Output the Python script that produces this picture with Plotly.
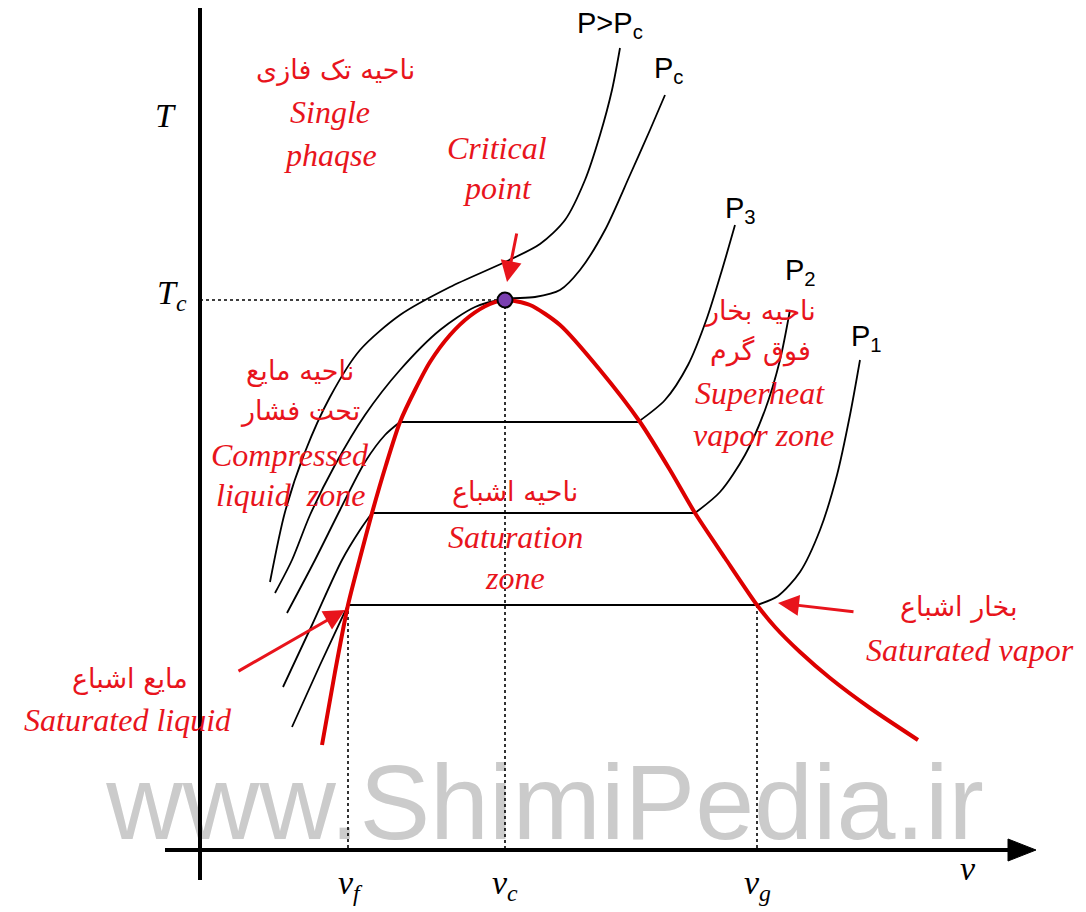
import plotly.graph_objects as go

# ---------------- data (v, T in diagram units) ----------------
sat_liq_v = [322, 335, 348, 360, 372, 386, 400, 415, 430, 450, 470, 490, 505]
sat_liq_T = [167, 240, 307, 354, 399, 447, 490, 522, 550, 577, 596, 608, 612]
sat_vap_v = [505, 530, 560, 600, 640, 670, 695, 725, 757, 775, 800, 830, 870, 918]
sat_vap_T = [612, 607, 587, 542, 490, 442, 399, 354, 307, 285, 260, 234, 204, 172]

crit_v = [505]
crit_T = [612]

iso_T = [490, 399, 307]
iso_v_left = [400, 372, 348]
iso_v_right = [638, 695, 757]

p_super_v = [270, 285, 305, 330, 360, 400, 450, 505, 540, 565, 585, 600, 612, 620]
p_super_T = [330, 400, 460, 515, 562, 597, 625, 650, 668, 692, 732, 777, 822, 864]
p_crit_v = [275, 292, 310, 335, 365, 400, 440, 475, 505, 535, 560, 580, 605, 630, 650, 665]
p_crit_T = [319, 352, 397, 447, 497, 542, 582, 605, 613, 615, 622, 642, 682, 737, 782, 817]
p3_liq_v = [287, 315, 340, 365, 385, 400]
p3_liq_T = [299, 352, 402, 450, 477, 490]
p3_vap_v = [638, 665, 688, 707, 722, 735]
p3_vap_T = [490, 512, 547, 594, 642, 687]
p2_liq_v = [283, 312, 342, 360, 372]
p2_liq_T = [225, 287, 352, 382, 399]
p2_vap_v = [695, 720, 745, 765, 780, 790]
p2_vap_T = [399, 420, 457, 502, 552, 602]
p1_liq_v = [292, 320, 348]
p1_liq_T = [185, 247, 307]
p1_vap_v = [757, 778, 800, 820, 837, 850, 860]
p1_vap_T = [307, 316, 340, 382, 437, 497, 552]

pressure_labels = ["P&gt;P<sub>c</sub>", "P<sub>c</sub>", "P<sub>3</sub>", "P<sub>2</sub>", "P<sub>1</sub>"]
axis_labels = ["<i>T</i>", "<i>T<sub>c</sub></i>", "<i>v<sub>f</sub></i>", "<i>v<sub>c</sub></i>",
               "<i>v<sub>g</sub></i>", "<i>v</i>"]
persian_labels = ["ناحیه تک فازی", "ناحیه بخار", "فوق گرم", "ناحیه مایع", "تحت فشار",
                  "ناحیه اشباع", "بخار اشباع", "مایع اشباع"]
english_labels = ["Single", "phaqse", "Critical", "point", "Superheat", "vapor zone",
                  "Compressed", "liquid&nbsp;&nbsp;zone", "Saturation", "zone",
                  "Saturated vapor", "Saturated liquid"]
watermark = "www.ShimiPedia.ir"

# ---------------- layout positions ----------------
pressure_pos = [(610, 887), (668, 842), (740, 702), (800, 640), (866, 574)]
axis_pos = [(165, 797), (172, 617), (350, 27), (505, 27), (757, 27), (968, 44)]
persian_pos = [(335, 842), (760, 601), (760, 561), (300, 541), (300, 501),
               (515, 420), (958, 305), (130, 233)]
english_pos = [(330, 800), (330, 757), (497, 764), (497, 724), (760, 519), (763, 477),
               (290, 457), (290, 417), (515, 375), (515, 334), (970, 262), (128, 192)]

RED = "#e8141c"
DOME = "#dd0000"

fig = go.Figure()

# watermark (behind everything)
fig.add_trace(go.Scatter(x=[545], y=[100], mode="text", text=[watermark],
                         textfont=dict(family="Liberation Sans", size=106, color="#cbcbcb"),
                         hoverinfo="skip", showlegend=False, cliponaxis=False))

# dotted guide lines
dot = dict(color="black", width=1.6, dash="dot")
fig.add_trace(go.Scatter(x=[200, crit_v[0]], y=[crit_T[0], crit_T[0]], mode="lines", line=dot, showlegend=False))
fig.add_trace(go.Scatter(x=[crit_v[0], crit_v[0]], y=[crit_T[0], 62], mode="lines", line=dot, showlegend=False))
fig.add_trace(go.Scatter(x=[iso_v_left[2], iso_v_left[2]], y=[iso_T[2], 62], mode="lines", line=dot, showlegend=False))
fig.add_trace(go.Scatter(x=[iso_v_right[2], iso_v_right[2]], y=[iso_T[2], 62], mode="lines", line=dot, showlegend=False))

# isobars
blk = dict(color="black", width=1.8, shape="spline", smoothing=0.8)
for vv, tt in [(p_super_v, p_super_T), (p_crit_v, p_crit_T), (p3_liq_v, p3_liq_T),
               (p3_vap_v, p3_vap_T), (p2_liq_v, p2_liq_T), (p2_vap_v, p2_vap_T),
               (p1_liq_v, p1_liq_T), (p1_vap_v, p1_vap_T)]:
    fig.add_trace(go.Scatter(x=vv, y=tt, mode="lines", line=blk, showlegend=False, hoverinfo="skip"))

# isotherms inside dome
for t, a, b in zip(iso_T, iso_v_left, iso_v_right):
    fig.add_trace(go.Scatter(x=[a, b], y=[t, t], mode="lines", line=dict(color="black", width=2.2),
                             showlegend=False, hoverinfo="skip"))

# saturation dome
fig.add_trace(go.Scatter(x=sat_liq_v + sat_vap_v[1:], y=sat_liq_T + sat_vap_T[1:], mode="lines",
                         line=dict(color=DOME, width=4, shape="spline", smoothing=0.7),
                         showlegend=False, hoverinfo="skip"))

# axes
fig.add_trace(go.Scatter(x=[200, 200], y=[32, 912], mode="lines", line=dict(color="black", width=4),
                         showlegend=False, hoverinfo="skip"))
fig.add_trace(go.Scatter(x=[165, 1012], y=[62, 62], mode="lines", line=dict(color="black", width=4),
                         showlegend=False, hoverinfo="skip"))
fig.add_trace(go.Scatter(x=[1008, 1036, 1008, 1008], y=[73, 62, 51, 73], mode="lines", fill="toself",
                         fillcolor="black", line=dict(color="black", width=1),
                         showlegend=False, hoverinfo="skip"))

# critical point
fig.add_trace(go.Scatter(x=crit_v, y=crit_T, mode="markers",
                         marker=dict(size=15, color="#7a3fb0", line=dict(color="black", width=2)),
                         showlegend=False, hoverinfo="skip"))

ann = []
for txt, (x, y) in zip(pressure_labels, pressure_pos):
    ann.append(dict(x=x, y=y, text=txt, showarrow=False,
                    font=dict(family="Liberation Sans", size=29, color="black")))
for txt, (x, y) in zip(axis_labels, axis_pos):
    ann.append(dict(x=x, y=y, text=txt, showarrow=False,
                    font=dict(family="Liberation Serif", size=34, color="black")))
for txt, (x, y) in zip(persian_labels, persian_pos):
    ann.append(dict(x=x, y=y, text=txt, showarrow=False,
                    font=dict(family="DejaVu Sans", size=27, color=RED)))
for txt, (x, y) in zip(english_labels, english_pos):
    ann.append(dict(x=x, y=y, text="<i>" + txt + "</i>", showarrow=False,
                    font=dict(family="Liberation Serif", size=32, color=RED)))

# red pointer arrows (head, tail)
for (hx, hy), (tx, ty) in [((507, 630), (517, 680)), ((778, 309), (855, 300)), ((345, 302), (237, 240))]:
    ann.append(dict(x=hx, y=hy, ax=tx, ay=ty, axref="x", ayref="y", xref="x", yref="y",
                    text="", showarrow=True, arrowhead=2, arrowsize=1.4, arrowwidth=3, arrowcolor=RED))

# the page has an 8px body margin, so the figure is 8px smaller and the ranges start 8px in
fig.update_layout(width=1078, height=904, margin=dict(l=0, r=0, t=0, b=0),
                  paper_bgcolor="white", plot_bgcolor="white",
                  xaxis=dict(range=[8, 1086], visible=False, fixedrange=True),
                  yaxis=dict(range=[0, 904], visible=False, fixedrange=True),
                  annotations=ann, showlegend=False)

fig.write_html("out.html")
